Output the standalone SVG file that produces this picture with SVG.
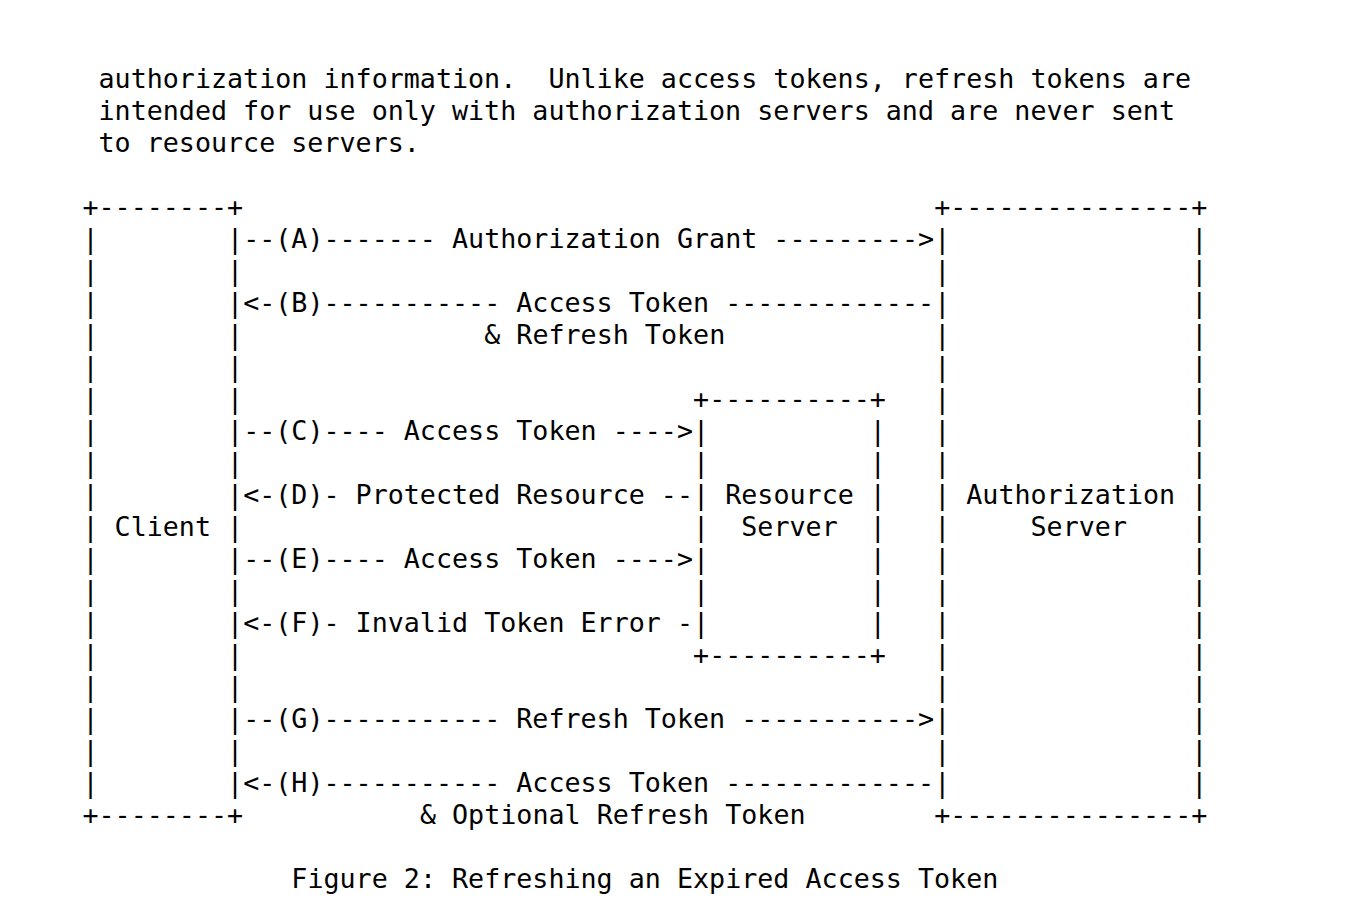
<svg xmlns="http://www.w3.org/2000/svg" width="1352" height="912" viewBox="0 0 1352 912">
<style>
text { font-family: "DejaVu Sans Mono", "Liberation Mono", monospace; font-size: 26.7px; white-space: pre; fill: #000000; }
</style>
<rect x="0" y="0" width="1352" height="912" fill="#ffffff"/>
<g id="paragraph">
<text x="98.51" y="87.5">authorization information.  Unlike access tokens, refresh tokens are</text>
<text x="98.51" y="119.5">intended for use only with authorization servers and are never sent</text>
<text x="98.51" y="151.5">to resource servers.</text>
</g>
<g id="client">
<text x="82.44" y="215.5">+--------+</text>
<text x="82.44" y="247.5">|        |</text>
<text x="82.44" y="279.5">|        |</text>
<text x="82.44" y="311.5">|        |</text>
<text x="82.44" y="343.5">|        |</text>
<text x="82.44" y="375.5">|        |</text>
<text x="82.44" y="407.5">|        |</text>
<text x="82.44" y="439.5">|        |</text>
<text x="82.44" y="471.5">|        |</text>
<text x="82.44" y="503.5">|        |</text>
<text x="82.44" y="535.5">| Client |</text>
<text x="82.44" y="567.5">|        |</text>
<text x="82.44" y="599.5">|        |</text>
<text x="82.44" y="631.5">|        |</text>
<text x="82.44" y="663.5">|        |</text>
<text x="82.44" y="695.5">|        |</text>
<text x="82.44" y="727.5">|        |</text>
<text x="82.44" y="759.5">|        |</text>
<text x="82.44" y="791.5">|        |</text>
<text x="82.44" y="823.5">+--------+</text>
</g>
<g id="authorization-server">
<text x="934.15" y="215.5">+---------------+</text>
<text x="934.15" y="247.5">|               |</text>
<text x="934.15" y="279.5">|               |</text>
<text x="934.15" y="311.5">|               |</text>
<text x="934.15" y="343.5">|               |</text>
<text x="934.15" y="375.5">|               |</text>
<text x="934.15" y="407.5">|               |</text>
<text x="934.15" y="439.5">|               |</text>
<text x="934.15" y="471.5">|               |</text>
<text x="934.15" y="503.5">| Authorization |</text>
<text x="934.15" y="535.5">|     Server    |</text>
<text x="934.15" y="567.5">|               |</text>
<text x="934.15" y="599.5">|               |</text>
<text x="934.15" y="631.5">|               |</text>
<text x="934.15" y="663.5">|               |</text>
<text x="934.15" y="695.5">|               |</text>
<text x="934.15" y="727.5">|               |</text>
<text x="934.15" y="759.5">|               |</text>
<text x="934.15" y="791.5">|               |</text>
<text x="934.15" y="823.5">+---------------+</text>
</g>
<g id="resource-server">
<text x="693.1" y="407.5">+----------+</text>
<text x="693.1" y="439.5">|          |</text>
<text x="693.1" y="471.5">|          |</text>
<text x="693.1" y="503.5">| Resource |</text>
<text x="693.1" y="535.5">|  Server  |</text>
<text x="693.1" y="567.5">|          |</text>
<text x="693.1" y="599.5">|          |</text>
<text x="693.1" y="631.5">|          |</text>
<text x="693.1" y="663.5">+----------+</text>
</g>
<g id="connectors">
<text x="243.14" y="247.5">--(A)------- Authorization Grant ---------&gt;</text>
<text x="243.14" y="311.5">&lt;-(B)----------- Access Token -------------</text>
<text x="484.19" y="343.5">&amp; Refresh Token</text>
<text x="243.14" y="439.5">--(C)---- Access Token ----&gt;</text>
<text x="243.14" y="503.5">&lt;-(D)- Protected Resource --</text>
<text x="243.14" y="567.5">--(E)---- Access Token ----&gt;</text>
<text x="243.14" y="631.5">&lt;-(F)- Invalid Token Error -</text>
<text x="243.14" y="727.5">--(G)----------- Refresh Token -----------&gt;</text>
<text x="243.14" y="791.5">&lt;-(H)----------- Access Token -------------</text>
<text x="419.91" y="823.5">&amp; Optional Refresh Token</text>
</g>
<g id="caption">
<text x="291.35" y="887.5">Figure 2: Refreshing an Expired Access Token</text>
</g>
</svg>
